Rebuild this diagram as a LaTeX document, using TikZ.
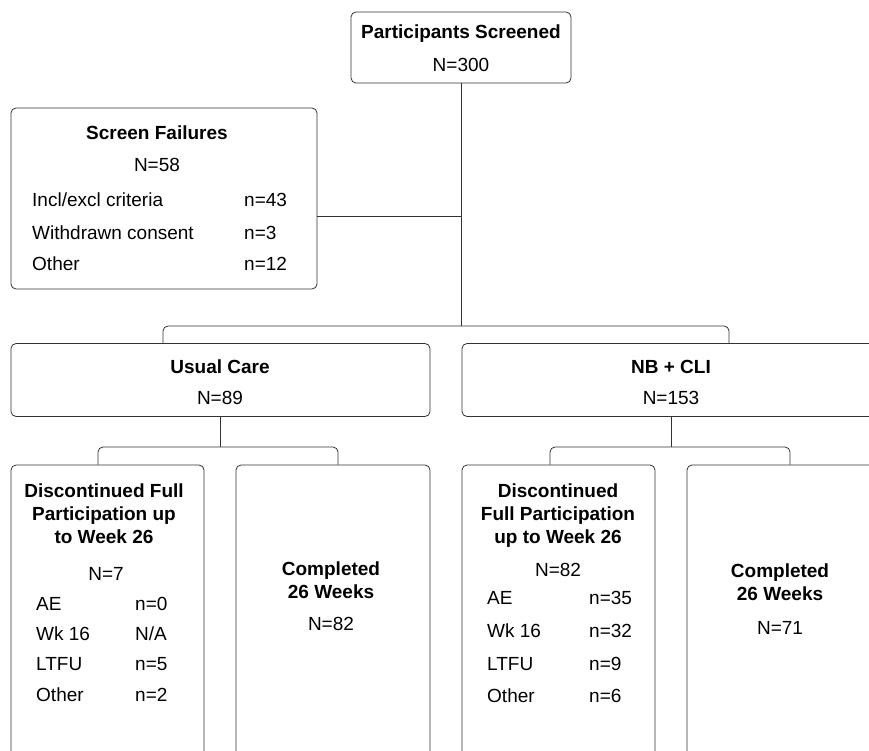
\documentclass[tikz,border=0pt]{standalone}
\usepackage{fontspec}
\setmainfont{Liberation Sans}
\usetikzlibrary{positioning}
\newcommand{\flowsize}{\fontsize{19}{23}\selectfont}
\tikzset{
  box/.style={draw=black!80, line width=0.8pt, rounded corners=5pt, inner sep=0pt},
  link/.style={draw=black!80, line width=0.8pt, rounded corners=5pt},
  hd/.style={font=\flowsize\bfseries, align=center, inner sep=0pt},
  lbl/.style={anchor=base west, inner sep=0pt},
  num/.style={anchor=base, inner sep=0pt}
}

\begin{document}
\begin{tikzpicture}[x=1pt,y=-1pt,font=\flowsize]
	\useasboundingbox (0,0) rectangle (869,751);
	\clip (0,0) rectangle (869,751);
	% boxes
	\node[box, minimum width=220pt, minimum height=71pt] (screened) at (461,47.5) {};
	\node[box, minimum width=306pt, minimum height=181pt] (fail) at (164,198.5) {};
	\node[box, minimum width=419pt, minimum height=73pt] (usual) at (220.5,380) {};
	\node[box, minimum width=419pt, minimum height=73pt] (nbcli) at (671.5,380) {};
	\node[box, minimum width=193pt, minimum height=335pt] (ucdisc) at (107.5,632.5) {};
	\node[box, minimum width=194pt, minimum height=335pt] (uccomp) at (333,632.5) {};
	\node[box, minimum width=193pt, minimum height=335pt] (nbdisc) at (558.5,632.5) {};
	\node[box, minimum width=194pt, minimum height=335pt] (nbcomp) at (784,632.5) {};
	% connectors
	\coordinate (split) at (461,216);
	\coordinate (arm) at (461,326);
	\coordinate (ucarm) at (usual.south |- 0,447);
	\coordinate (nbarm) at (nbcli.south |- 0,447);
	\draw[link] (screened.south) -- (arm);
	\draw[link] (fail.east |- split) -- (split);
	\draw[link] (usual.north -| 163,0) |- (arm) -| (nbcli.north -| 729,0);
	\draw[link] (usual.south) -- (ucarm);
	\draw[link] (ucdisc.north -| 98,0) |- (ucarm) -| (uccomp.north -| 338,0);
	\draw[link] (nbcli.south) -- (nbarm);
	\draw[link] (nbdisc.north -| 550,0) |- (nbarm) -| (nbcomp.north -| 790,0);
	% screening
	\node[hd, anchor=base] (screenedhd) at (461,39) {Participants Screened};
	\node[num] (screenedn) at (461,72) {N=300};
	\node[hd, anchor=base] (failhd) at (157,140) {Screen Failures};
	\node[num] (failn) at (157,172) {N=58};
	\node[lbl] (failcrit) at (32,207) {Incl/excl criteria};
	\node[lbl] (failcons) at (32,240) {Withdrawn consent};
	\node[lbl] (failoth) at (32,270) {Other};
	\node[lbl] (failcritn) at (244,207) {n=43};
	\node[lbl] (failconsn) at (244,240) {n=3};
	\node[lbl] (failothn) at (244,270) {n=12};
	% arms
	\node[hd, anchor=base] (usualhd) at (220,373) {Usual Care};
	\node[num] (usualn) at (220,404) {N=89};
	\node[hd, anchor=base] (nbclihd) at (671,373) {NB + CLI};
	\node[num] (nbclin) at (671,404) {N=153};
	% usual care outcomes
	\node[hd] (ucdischd) at (104,514) {Discontinued Full\\Participation up\\to Week 26};
	\node[num] (ucdiscn) at (106,580) {N=7};
	\node[lbl] (ucae) at (36,610) {AE};
	\node[lbl] (ucwk) at (36,640) {Wk 16};
	\node[lbl] (ucltfu) at (36,670) {LTFU};
	\node[lbl] (ucoth) at (36,701) {Other};
	\node[lbl] (ucaen) at (135,610) {n=0};
	\node[lbl] (ucwkn) at (135,640) {N/A};
	\node[lbl] (ucltfun) at (135,670) {n=5};
	\node[lbl] (ucothn) at (135,701) {n=2};
	\node[hd] (ucomphd) at (331,580.5) {Completed\\26 Weeks};
	\node[num] (ucompn) at (331,630) {N=82};
	% nb + cli outcomes
	\node[hd] (nbdischd) at (558,516) {Discontinued\\Full Participation\\up to Week 26};
	\node[num] (nbdiscn) at (558,576) {N=82};
	\node[lbl] (nbae) at (487,604) {AE};
	\node[lbl] (nbwk) at (487,637) {Wk 16};
	\node[lbl] (nbltfu) at (487,670) {LTFU};
	\node[lbl] (nboth) at (487,702) {Other};
	\node[lbl] (nbaen) at (589,604) {n=35};
	\node[lbl] (nbwkn) at (589,637) {n=32};
	\node[lbl] (nbltfun) at (589,670) {n=9};
	\node[lbl] (nbothn) at (589,702) {n=6};
	\node[hd] (nbcomphd) at (780,582.5) {Completed\\26 Weeks};
	\node[num] (nbcompn) at (780,634) {N=71};
\end{tikzpicture}
\end{document}
